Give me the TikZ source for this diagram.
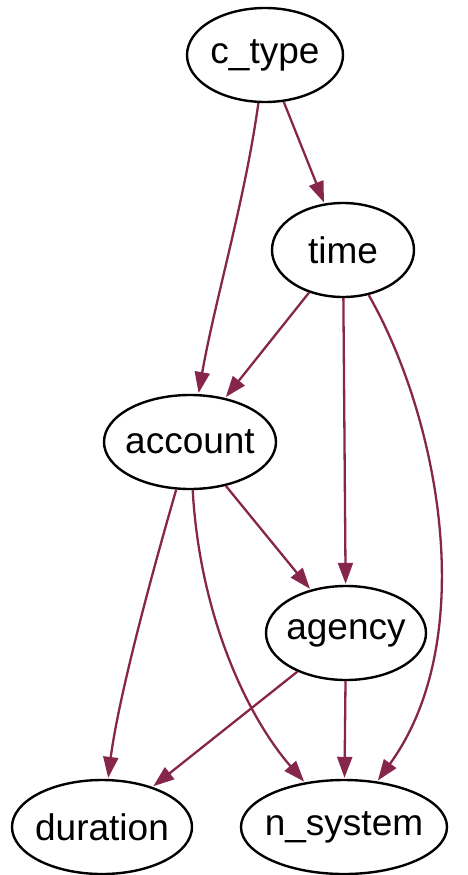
\documentclass[tikz,border=0pt]{standalone}
\usepackage{fontspec}
\setmainfont{Liberation Sans}
\usetikzlibrary{arrows.meta,shapes.geometric}
\definecolor{edgecol}{RGB}{135,38,75}
\tikzset{
  vertex/.style={draw=black, line width=2.4pt, ellipse, inner sep=-30pt,
    minimum height=94pt, font=\fontsize{37}{40}\selectfont},
  dep/.style={draw=edgecol, line width=2.3pt,
    -{Triangle[length=21pt,width=15pt]}, shorten >=1pt}
}
\begin{document}
\begin{tikzpicture}[x=1pt,y=-1pt]
  \useasboundingbox (0,0) rectangle (467,875);
  % variables of the network
  \node[vertex, minimum width=156pt] (ctype)    at (265,55)  {c\_type};
  \node[vertex, minimum width=142pt] (time)     at (343,250) {time};
  \node[vertex, minimum width=172pt] (account)  at (190,442) {account};
  \node[vertex, minimum width=160pt] (agency)   at (346,633) {agency};
  \node[vertex, minimum width=180pt] (duration) at (102,827) {duration};
  \node[vertex, minimum width=206pt] (nsys)     at (344,827) {n\_system};
  % dependencies
  \draw[dep] (ctype) .. controls (245,200) and (215,300) .. (account);
  \draw[dep] (ctype) -- (time);
  \draw[dep] (time) -- (account);
  \draw[dep] (time) -- (agency);
  \draw[dep] (time) .. controls (440,420) and (480,640) .. (nsys);
  \draw[dep] (account) -- (agency);
  \draw[dep] (account) .. controls (150,580) and (118,700) .. (duration);
  \draw[dep] (account) .. controls (200,620) and (250,720) .. (nsys);
  \draw[dep] (agency) -- (duration);
  \draw[dep] (agency) -- (nsys);
\end{tikzpicture}
\end{document}
